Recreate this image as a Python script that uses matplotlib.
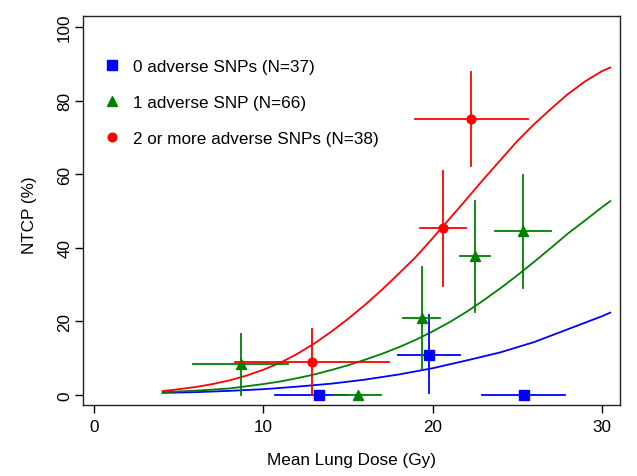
import matplotlib
matplotlib.use("Agg")
import matplotlib.pyplot as plt
from matplotlib.lines import Line2D

plt.rcParams['font.family'] = ['Liberation Sans', 'DejaVu Sans']

blue_x = [13.27, 19.78, 25.4]
blue_y = [0, 11.0, 0]
blue_xlo = [10.7, 17.93, 22.93]
blue_xhi = [15.0, 21.63, 27.84]
blue_ylo = [0, 0.45, 0]
blue_yhi = [0, 21.7, 0]

green_x = [8.65, 15.58, 19.38, 22.5, 25.36]
green_y = [8.4, 0, 21.0, 37.9, 44.5]
green_xlo = [5.82, 14.2, 18.27, 21.6, 23.7]
green_xhi = [11.44, 16.97, 20.43, 23.4, 27.0]
green_ylo = [0, 0, 7.1, 22.5, 29.0]
green_yhi = [16.6, 0, 34.9, 52.8, 59.8]

red_x = [12.88, 20.63, 22.26]
red_y = [9.1, 45.3, 75.0]
red_xlo = [8.32, 19.28, 18.94]
red_xhi = [17.45, 21.95, 25.63]
red_ylo = [0, 29.7, 62.3]
red_yhi = [17.9, 60.9, 87.7]

# fitted curves
red_cx = [4.04, 5, 6, 7, 8, 9, 10, 11, 12, 13, 14, 15, 16, 17, 18, 19, 20, 21, 22, 23, 24, 25, 26, 27, 28, 29, 30, 30.5]
red_cy = [1.1, 1.6, 2.2, 3.0, 4.0, 5.3, 6.9, 8.8, 11.2, 14.0, 17.2, 20.7, 24.5, 28.6, 33.0, 37.5, 42.6, 47.9,
          53.2, 58.6, 63.8, 69.0, 73.6, 77.8, 81.8, 85.2, 88.0, 89.0]
green_cx = [4.04, 6, 8, 9, 10, 11, 12, 13, 14, 15, 16, 17, 18, 19, 20, 21, 22, 23, 24, 25, 26, 27, 28, 29, 30, 30.5]
green_cy = [0.8, 1.2, 1.8, 2.4, 3.0, 3.7, 4.6, 5.6, 6.8, 8.1, 9.6, 11.2, 13.0, 15.0, 17.3, 19.8, 22.6, 25.7,
            29.0, 32.5, 36.2, 40.0, 43.9, 47.4, 51.0, 52.7]
blue_cx = [4.04, 6, 8, 10, 12, 14, 16, 18, 20, 22, 24, 26, 28, 30, 30.5]
blue_cy = [0.6, 0.8, 1.15, 1.6, 2.3, 3.1, 4.2, 5.6, 7.3, 9.4, 11.6, 14.4, 17.9, 21.4, 22.4]

labels = ["0 adverse SNPs (N=37)", "1 adverse SNP (N=66)", "2 or more adverse SNPs (N=38)"]

c_blue = '#0000FF'
c_green = '#008000'
c_red = '#FF0000'

fig = plt.figure(figsize=(6.37, 4.77), dpi=100)
ax = fig.add_axes([0.1308, 0.1488, 0.8430, 0.8162])

ax.plot(blue_cx, blue_cy, color=c_blue, lw=1.3)
ax.plot(green_cx, green_cy, color=c_green, lw=1.3)
ax.plot(red_cx, red_cy, color=c_red, lw=1.3)

groups = [
    (blue_x, blue_y, blue_xlo, blue_xhi, blue_ylo, blue_yhi, c_blue, 's', 6.8),
    (green_x, green_y, green_xlo, green_xhi, green_ylo, green_yhi, c_green, '^', 7.5),
    (red_x, red_y, red_xlo, red_xhi, red_ylo, red_yhi, c_red, 'o', 6.3),
]
for xs, ys, xlo, xhi, ylo, yhi, col, mk, ms in groups:
    for i in range(len(xs)):
        ax.plot([xlo[i], xhi[i]], [ys[i], ys[i]], color=col, lw=1.3)
        if yhi[i] > ylo[i]:
            ax.plot([xs[i], xs[i]], [ylo[i], yhi[i]], color=col, lw=1.3)
    ax.plot(xs, ys, linestyle='none', marker=mk, color=col, markersize=ms)

handles = [
    Line2D([], [], linestyle='none', marker='s', color=c_blue, markersize=6.5),
    Line2D([], [], linestyle='none', marker='^', color=c_green, markersize=7.2),
    Line2D([], [], linestyle='none', marker='o', color=c_red, markersize=6.2),
]
ax.legend(handles, labels, loc='upper left', bbox_to_anchor=(0.024, 0.907),
          frameon=False, fontsize=12.3, handlelength=1.0, handletextpad=0.78,
          labelspacing=1.25, borderaxespad=0)

ax.set_xlim(-0.65, 31.1)
ax.set_ylim(-2.7, 103.1)
ax.set_xticks([0, 10, 20, 30])
ax.set_yticks([0, 20, 40, 60, 80, 100])
ax.tick_params(axis='both', labelsize=12.3, length=6, width=1, direction='out')
ax.tick_params(axis='x', pad=4)
ax.tick_params(axis='y', pad=2)
for lab in ax.get_yticklabels():
    lab.set_rotation(90)
    lab.set_va('center')
for sp in ax.spines.values():
    sp.set_linewidth(1)
    sp.set_color('#222222')

ax.set_xlabel("Mean Lung Dose (Gy)", fontsize=12.3)
ax.set_ylabel("NTCP (%)", fontsize=12.3)
ax.xaxis.set_label_coords(0.5, -0.139)
ax.xaxis.label.set_va('center')
ax.yaxis.set_label_coords(-0.1, 0.49)
ax.yaxis.label.set_va('center')

fig.savefig('out.png', dpi=100)
